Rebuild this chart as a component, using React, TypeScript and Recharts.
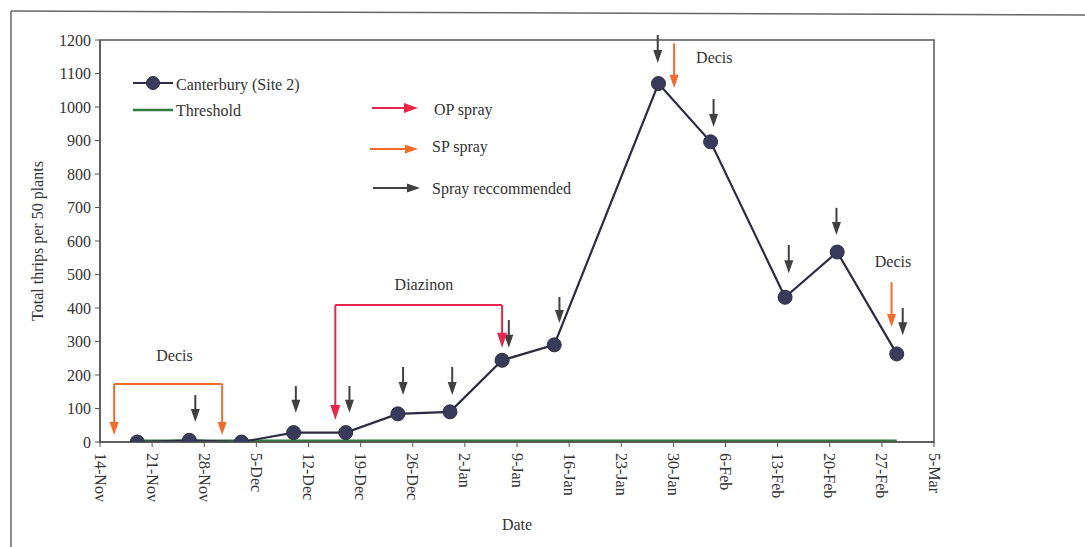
import {
  ComposedChart,
  Line,
  Scatter,
  XAxis,
  YAxis,
  ReferenceLine,
  ReferenceArea,
} from 'recharts';

// days counted from 14-Nov (leap year, so 27-Feb to 5-Mar is a full week)
const tickDays = [0, 7, 14, 21, 28, 35, 42, 49, 56, 63, 70, 77, 84, 91, 98, 105, 112];
const tickLabels = [
  '14-Nov', '21-Nov', '28-Nov', '5-Dec', '12-Dec', '19-Dec', '26-Dec', '2-Jan',
  '9-Jan', '16-Jan', '23-Jan', '30-Jan', '6-Feb', '13-Feb', '20-Feb', '27-Feb', '5-Mar',
];
const yTicks = [0, 100, 200, 300, 400, 500, 600, 700, 800, 900, 1000, 1100, 1200];

const sampleDays = [5, 12, 19, 26, 33, 40, 47, 54, 61, 75, 82, 92, 99, 107];
const canterbury = [0, 5, 0, 28, 28, 84, 90, 244, 290, 1070, 896, 432, 567, 263];
const threshold = [3, 3, 3, 3, 3, 3, 3, 3, 3, 3, 3, 3, 3, 3];

// spray recommended arrows: day, shaft top value, tip value
const recDays = [12.8, 26.3, 33.5, 40.7, 47.3, 54.9, 61.7, 74.9, 82.4, 92.5, 98.9, 107.8];
const recTop = [140, 167, 167, 224, 224, 364, 433, 1215, 1024, 588, 699, 400];
const recTip = [60, 87, 87, 140, 140, 281, 355, 1131, 940, 504, 618, 319];

// SP spray (Decis) arrows
const spDays = [1.9, 16.4, 77.1, 106.3];
const spTop = [173, 173, 1190, 477];
const spTip = [21, 21, 1057, 343];
const spBracket = { from: 1.9, to: 16.4, level: 173 };

// OP spray (Diazinon) arrows
const opDays = [31.6, 54.0];
const opTop = [409, 409];
const opTip = [66, 281];
const opBracket = { from: 31.6, to: 54.0, level: 409 };

const noteDays = [10, 43.5, 82.5, 106.5];
const noteValues = [258, 470, 1147, 540];
const noteTexts = ['Decis', 'Diazinon', 'Decis', 'Decis'];

const FONT = '"Liberation Serif", "DejaVu Serif", serif';
const TEXT = '#333';
const AXIS = '#555';
const NAVY = '#2c2c40';
const GREEN = '#2f7a3c';
const RED = '#e8264c';
const ORANGE = '#f36b2c';
const DARK = '#404040';

const mainData = sampleDays.map((d, i) => ({ day: d, value: canterbury[i] }));
const thresholdData = sampleDays.map((d, i) => ({ day: d, value: threshold[i] }));
const recHeads = recDays.map((d, i) => ({ day: d, value: recTip[i] }));
const spHeads = spDays.map((d, i) => ({ day: d, value: spTip[i] }));
const opHeads = opDays.map((d, i) => ({ day: d, value: opTip[i] }));
const notes = noteDays.map((d, i) => ({ day: d, value: noteValues[i], text: noteTexts[i] }));

const head = (color: string, w: number, h: number) => (props: any) => {
  const { cx, cy } = props;
  if (cx == null || cy == null) return <g />;
  return (
    <path
      d={`M${cx - w / 2},${cy - h} L${cx + w / 2},${cy - h} L${cx},${cy} Z`}
      fill={color}
    />
  );
};

const noteShape = (props: any) => {
  const { cx, cy, payload } = props;
  return (
    <text
      x={cx}
      y={cy}
      textAnchor="middle"
      dominantBaseline="central"
      fontFamily={FONT}
      fontSize={16}
      fill={TEXT}
    >
      {payload.text}
    </text>
  );
};

const XTick = (props: any) => {
  const { x, y, payload } = props;
  const idx = tickDays.indexOf(payload.value);
  return (
    <text
      x={x}
      y={y + 4}
      transform={`rotate(90 ${x} ${y + 4})`}
      textAnchor="start"
      dominantBaseline="central"
      fontFamily={FONT}
      fontSize={16}
      fill={TEXT}
    >
      {tickLabels[idx]}
    </text>
  );
};

function Arrow({ x1, x2, y, color, w, h }: any) {
  return (
    <g>
      <line x1={x1} y1={y} x2={x2 - h} y2={y} stroke={color} strokeWidth={2} />
      <path d={`M${x2 - h},${y - w / 2} L${x2 - h},${y + w / 2} L${x2},${y} Z`} fill={color} />
    </g>
  );
}

export default function App() {
  const txt = { fontFamily: FONT, fontSize: 16, fill: TEXT };
  return (
    <div style={{ position: 'absolute', left: 0, top: 0, width: 1085, height: 547, background: '#fff' }}>
      <ComposedChart
        width={1085}
        height={547}
        margin={{ top: 40, right: 151, bottom: 45, left: 40 }}
      >
        <XAxis
          dataKey="day"
          type="number"
          domain={[0, 112]}
          ticks={tickDays}
          tick={<XTick />}
          tickSize={5}
          height={60}
          axisLine={{ stroke: AXIS, strokeWidth: 1.5 }}
          tickLine={{ stroke: AXIS }}
          allowDataOverflow
        />
        <YAxis
          type="number"
          domain={[0, 1200]}
          ticks={yTicks}
          width={60}
          tickSize={5}
          tickMargin={4}
          interval={0}
          axisLine={{ stroke: AXIS, strokeWidth: 1.5 }}
          tickLine={{ stroke: AXIS }}
          tick={{ ...txt }}
          allowDataOverflow
        />
        <ReferenceArea x1={0} x2={112} y1={0} y2={1200} fill="none" stroke={AXIS} strokeWidth={1.5} />

        <Line
          data={thresholdData}
          dataKey="value"
          stroke={GREEN}
          strokeWidth={3}
          dot={false}
          isAnimationActive={false}
        />
        <Line
          data={mainData}
          dataKey="value"
          stroke={NAVY}
          strokeWidth={2.2}
          dot={{ r: 7, fill: '#3a3a5c', stroke: NAVY, strokeWidth: 1 }}
          isAnimationActive={false}
        />

        {/* brackets */}
        <ReferenceLine
          segment={[{ x: spBracket.from, y: spBracket.level }, { x: spBracket.to, y: spBracket.level }]}
          stroke={ORANGE}
          strokeWidth={2}
          ifOverflow="visible"
        />
        <ReferenceLine
          segment={[{ x: opBracket.from, y: opBracket.level }, { x: opBracket.to, y: opBracket.level }]}
          stroke={RED}
          strokeWidth={2}
          ifOverflow="visible"
        />

        {/* arrow shafts */}
        {recDays.map((d, i) => (
          <ReferenceLine
            key={`r${i}`}
            segment={[{ x: d, y: recTop[i] }, { x: d, y: recTip[i] + 20 }]}
            stroke={DARK}
            strokeWidth={2}
            ifOverflow="visible"
          />
        ))}
        {spDays.map((d, i) => (
          <ReferenceLine
            key={`s${i}`}
            segment={[{ x: d, y: spTop[i] }, { x: d, y: spTip[i] + 20 }]}
            stroke={ORANGE}
            strokeWidth={2}
            ifOverflow="visible"
          />
        ))}
        {opDays.map((d, i) => (
          <ReferenceLine
            key={`o${i}`}
            segment={[{ x: d, y: opTop[i] }, { x: d, y: opTip[i] + 25 }]}
            stroke={RED}
            strokeWidth={2}
            ifOverflow="visible"
          />
        ))}

        <Scatter data={recHeads} dataKey="value" shape={head(DARK, 9, 13)} isAnimationActive={false} />
        <Scatter data={spHeads} dataKey="value" shape={head(ORANGE, 9, 13)} isAnimationActive={false} />
        <Scatter data={opHeads} dataKey="value" shape={head(RED, 10, 15)} isAnimationActive={false} />
        <Scatter data={notes} dataKey="value" shape={noteShape} isAnimationActive={false} />
      </ComposedChart>

      <svg
        width={1085}
        height={547}
        style={{ position: 'absolute', left: 0, top: 0, pointerEvents: 'none' }}
      >
        {/* page frame */}
        <line x1={11} y1={11} x2={1085} y2={15} stroke="#666" strokeWidth={1.5} />
        <line x1={11} y1={11} x2={11} y2={547} stroke="#666" strokeWidth={1.5} />

        {/* axis titles */}
        <text
          {...txt}
          x={37}
          y={241}
          textAnchor="middle"
          dominantBaseline="central"
          transform="rotate(-90 37 241)"
        >
          Total thrips per 50 plants
        </text>
        <text {...txt} x={517} y={524} textAnchor="middle" dominantBaseline="central">
          Date
        </text>

        {/* series legend */}
        <line x1={133} y1={83} x2={173} y2={83} stroke={NAVY} strokeWidth={2.2} />
        <circle cx={153} cy={83} r={6.5} fill="#3a3a5c" stroke={NAVY} />
        <text {...txt} x={176} y={84} dominantBaseline="central">Canterbury (Site 2)</text>
        <line x1={133} y1={110} x2={173} y2={110} stroke={GREEN} strokeWidth={2.5} />
        <text {...txt} x={176} y={110} dominantBaseline="central">Threshold</text>

        {/* spray legend */}
        <Arrow x1={372} x2={418} y={108} color={RED} w={10} h={14} />
        <text {...txt} x={434} y={109} dominantBaseline="central">OP spray</text>
        <Arrow x1={370} x2={418} y={149} color={ORANGE} w={9} h={13} />
        <text {...txt} x={432} y={146} dominantBaseline="central">SP spray</text>
        <Arrow x1={373} x2={420} y={188} color={DARK} w={9} h={13} />
        <text {...txt} x={432} y={188} dominantBaseline="central">Spray reccommended</text>
      </svg>
    </div>
  );
}
